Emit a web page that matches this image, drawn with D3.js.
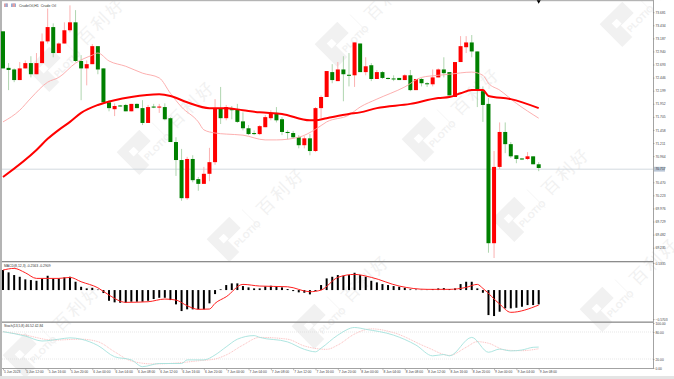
<!DOCTYPE html>
<html>
<head>
<meta charset="utf-8">
<script src="https://cdn.jsdelivr.net/npm/d3@7"></script>
<style>
    html, body {margin: 0; padding: 0; background: #fff; overflow: hidden;}
    svg {display: block;}
    text {font-family: "Liberation Sans", sans-serif;}
</style>
</head>
<body>
<svg id="chart" width="674" height="379"></svg>
<script>
//hourly candles, 5 Jun 08:00 to 9 Jun 08:00, red is up and green is down
const opens = [73.32,72.63,72.60,72.40,72.62,72.72,72.51,72.72,73.13,73.40,72.91,73.09,73.34,73.49,72.76,72.62,72.70,73.04,72.62,71.98,71.85,71.92,71.93,71.81,71.95,71.87,71.59,71.90,71.88,71.89,71.68,71.23,70.89,70.17,70.91,70.53,70.44,70.63,70.85,71.87,71.68,71.85,71.85,71.62,71.49,71.40,71.38,71.51,71.68,71.78,71.66,71.42,71.40,71.32,71.17,71.30,71.06,71.87,72.08,72.55,72.38,72.60,72.50,72.49,73.09,72.55,72.68,72.42,72.55,72.44,72.43,72.44,72.40,72.49,72.21,72.42,72.34,72.32,72.45,72.60,72.55,72.08,72.74,73.02,73.11,72.94,72.19,71.95,69.32,70.76,71.42,71.19,70.98,70.92,70.91,70.96,70.81];
const highs = [73.32,72.72,72.62,72.74,72.77,72.85,72.91,73.28,73.75,73.47,73.11,73.49,73.81,73.72,72.87,72.77,73.08,73.04,72.62,72.02,71.96,71.93,71.95,71.95,71.96,72.02,71.93,71.95,71.95,71.96,71.70,71.32,71.10,70.95,70.98,70.57,70.76,71.12,72.04,72.27,71.93,71.91,71.95,71.79,71.55,71.45,71.55,71.74,71.83,71.89,71.70,71.45,71.44,71.36,71.34,71.38,71.89,72.11,72.57,72.70,72.74,72.85,72.91,73.11,73.09,72.83,72.72,72.59,72.57,72.45,72.49,72.44,72.51,72.59,72.42,72.44,72.36,72.60,72.62,72.83,72.55,72.74,73.23,73.23,73.25,72.94,72.28,72.06,71.06,71.60,71.60,71.23,70.98,70.93,71.04,70.96,70.85];
const lows = [72.62,72.21,72.36,72.40,72.62,72.45,72.51,72.72,73.09,72.83,72.91,73.09,73.30,72.74,72.02,72.30,72.70,72.51,71.98,71.81,71.72,71.90,71.81,71.81,71.87,71.55,71.59,71.87,71.78,71.64,71.23,70.59,70.12,70.14,70.47,70.31,70.44,70.49,70.80,71.57,71.64,71.66,71.59,71.45,71.36,71.36,71.36,71.51,71.64,71.60,71.36,71.28,71.30,71.11,71.11,70.98,71.04,71.68,72.08,72.34,72.38,72.00,72.28,72.27,72.55,72.49,72.38,72.42,72.42,72.41,72.38,72.40,72.40,72.19,72.21,72.28,72.27,72.28,72.45,72.45,72.11,72.08,72.74,72.91,72.83,71.89,71.61,69.14,69.04,70.72,71.02,70.93,70.83,70.89,70.89,70.81,70.68];
const closes = [72.62,72.59,72.40,72.62,72.72,72.51,72.72,73.13,73.40,72.91,73.09,73.34,73.49,72.76,72.62,72.70,73.04,72.60,71.98,71.87,71.91,71.91,71.81,71.95,71.87,71.59,71.89,71.88,71.90,71.66,71.23,70.89,70.17,70.91,70.51,70.44,70.63,70.85,71.87,71.68,71.89,71.83,71.61,71.49,71.38,71.38,71.53,71.70,71.78,71.64,71.42,71.40,71.32,71.17,71.30,71.06,71.87,72.08,72.57,72.40,72.60,72.51,72.48,73.11,72.55,72.66,72.42,72.55,72.44,72.42,72.42,72.40,72.49,72.21,72.42,72.34,72.32,72.45,72.60,72.53,72.11,72.74,73.04,73.11,72.94,72.21,71.93,69.32,70.76,71.42,71.19,70.96,70.91,70.90,70.96,70.81,70.74];

//moving averages, read at the bends only (bar index, price)
const slowMaBars = [0,6,8,10,12,14,17,20,23,28,30,33,37,40,43,46,50,55,56,58,62,64,67,73,78,80,82,84,86,87,91,96];
const slowMaValues = [70.57,71.08,71.29,71.46,71.61,71.78,71.93,72.02,72.08,72.13,72.10,71.98,71.87,71.87,71.83,71.79,71.76,71.64,71.64,71.68,71.76,71.79,71.87,71.95,72.06,72.08,72.15,72.21,72.21,72.10,72.04,71.87];
const fastMaBars = [0,3,5,8,10,13,16,17,19,22,25,28,30,32,35,36,38,40,43,47,49,53,56,58,62,64,67,72,75,78,80,84,86,87,89,92,96];
const fastMaValues = [71.61,71.83,72.06,72.36,72.45,72.72,72.87,72.91,72.76,72.66,72.53,72.44,72.15,71.89,71.61,71.46,71.40,71.38,71.36,71.27,71.27,71.32,71.47,71.61,71.74,71.89,72.04,72.27,72.45,72.49,72.51,72.55,72.49,72.34,72.21,71.96,71.68];

const macdBars = [.394,.349,.296,.262,.211,.197,.183,.230,.282,.230,.230,.250,.262,.164,.065,.033,.045,.010,-.059,-.211,-.242,-.250,-.250,-.230,-.230,-.230,-.211,-.177,-.152,-.152,-.197,-.282,-.414,-.380,-.380,-.380,-.380,-.262,-.079,.014,.099,.132,.132,.079,.053,.033,.033,.073,.085,.079,.053,.020,-.020,-.045,-.053,-.085,-.020,.099,.230,.262,.296,.282,.296,.341,.296,.262,.183,.152,.118,.099,.079,.065,.045,.014,.010,.006,.006,.020,.033,.039,.020,.033,.118,.164,.164,.033,-.053,-.493,-.512,-.427,-.361,-.361,-.349,-.329,-.296,-.296,-.282];
const macdSignalBars = [0,2,4,6,10,12,14,17,19,22,26,29,31,33,35,37,38,40,43,46,51,55,57,60,63,66,71,76,80,83,85,86,89,91,96];
const macdSignalValues = [.394,.427,.341,.230,.230,.250,.164,.045,-.099,-.242,-.230,-.177,-.197,-.309,-.380,-.374,-.262,-.132,.112,.079,.065,-.033,0,.250,.309,.250,.079,.014,.014,.053,.112,.033,-.276,-.439,-.296];

const stochMainBars = [0,4,7,10,12,14,17,20,23,25,28,32,33,36,38,40,42,45,46,51,54,56,57,60,63,65,70,74,77,79,80,84,87,89,91,93,95,96];
const stochMainValues = [80.7,71,60,64,67,64,50,25,18,3,10,10,18,18,29,47,64,72,68,58,41.5,36,44,73,90,86,73,51,27,30,27,68,35,42,38,40,46,46.5];
const stochSignalBars = [0,4,9,14,17,20,23,27,32,35,38,40,43,46,51,54,58,60,63,66,70,76,80,83,85,87,90,93,96];
const stochSignalValues = [80.7,73,62,64,58.5,36,15.5,9,12,16,20,29,51,68,64,49,41.5,51,75.5,87,78.5,46,28,46,58.5,55,40,38.5,42.8];

const priceTicks = [73.681,73.434,73.187,72.940,72.693,72.446,72.199,71.952,71.705,71.458,71.211,70.964,70.470,70.223,69.976,69.729,69.482,69.235];
const lastPrice = 70.717;
const macdTicks = [0.5335,-0.5703];
const stochTicks = [100,80,20,0];
const stochLevels = [80,20];
const timeBars = d3.range(0, 97, 4);
const timeLabels = ['5 Jun 2023','5 Jun 12:00','5 Jun 16:00','5 Jun 20:00','6 Jun 00:00','6 Jun 04:00','6 Jun 08:00','6 Jun 12:00','6 Jun 16:00','6 Jun 20:00','7 Jun 00:00','7 Jun 04:00','7 Jun 08:00','7 Jun 12:00','7 Jun 16:00','7 Jun 20:00','8 Jun 00:00','8 Jun 04:00','8 Jun 08:00','8 Jun 12:00','8 Jun 16:00','8 Jun 20:00','9 Jun 00:00','9 Jun 04:00','9 Jun 08:00'];

//watermark centres
const logoSpots = [[50,70],[140,153],[230,240],[315,327],[26,356],[338,45],[425,140],[515,220],[603,310],[623,25]];

const svg = d3.select('#chart');
const width = 674, height = 379, axisX = 653;

const x = d3.scaleLinear().domain([0, 96]).range([3, 538.7]);
const yPrice = d3.scaleLinear().domain([69.235, 73.681]).range([247.7, 12.2]);
const yMacd = d3.scaleLinear().domain([-0.5703, 0.5335]).range([319, 263]);
const yStoch = d3.scaleLinear().domain([0, 100]).range([368, 323]);

const red = '#ff0000', green = '#008000';
const markGrey = '#f1f1f1';

//watermark goes first so everything else sits over it
const marks = svg.append('g').attr('class', 'watermark');
logoSpots.forEach(function(d) {
    const g = marks.append('g').attr('transform', 'translate(' + d[0] + ',' + d[1] + ') rotate(-45)');
    g.append('path')
        .attr('d', 'M-16,-17H16V-1H-2V15H-16Z')
        .attr('fill', markGrey);
    g.append('rect').attr('x', -7).attr('y', -9).attr('width', 7).attr('height', 7)
        .attr('fill', '#fff');
    g.append('text').text('PLOTIO')
        .attr('x', 0).attr('y', 11)
        .attr('font-size', 9).attr('font-weight', 'bold')
        .attr('fill', markGrey);
    g.append('line')
        .attr('x1', 30).attr('x2', 30).attr('y1', -13).attr('y2', 13)
        .attr('stroke', markGrey).attr('stroke-width', 0.7);
    g.append('text').text('百利好')
        .attr('x', 41).attr('y', 7)
        .attr('font-family', '"Noto Sans CJK SC"')
        .attr('font-size', 17).attr('letter-spacing', 3)
        .attr('fill', markGrey);
});

//window frame and pane separators
svg.append('rect').attr('x', 0).attr('y', 0).attr('width', 2).attr('height', 376).attr('fill', '#b4b4b4');
svg.append('rect').attr('x', 0).attr('y', 0).attr('width', axisX).attr('height', 1.2).attr('fill', '#b4b4b4');
svg.append('rect').attr('x', 0).attr('y', 376).attr('width', width).attr('height', 3).attr('fill', '#e4e4e4');
svg.selectAll('.sep')
    .data([261, 321.5])
    .join('rect')
    .attr('class', 'sep')
    .attr('x', 2).attr('y', function(d) {return d;})
    .attr('width', axisX - 2).attr('height', 1.3)
    .attr('fill', '#8c8c8c');
svg.append('rect').attr('x', 2).attr('y', 368).attr('width', axisX - 2).attr('height', 0.8).attr('fill', '#8c8c8c');
svg.append('rect').attr('x', axisX).attr('y', 0).attr('width', 0.8).attr('height', 368.8).attr('fill', '#8c8c8c');

//last price line
svg.append('line')
    .attr('x1', 2).attr('x2', axisX)
    .attr('y1', yPrice(lastPrice)).attr('y2', yPrice(lastPrice))
    .attr('stroke', '#c8d0d8').attr('stroke-width', 0.8);

//candles
const bars = opens.map(function(o, i) {
    return {i: i, open: o, high: highs[i], low: lows[i], close: closes[i]};
});
const candles = svg.append('g').attr('class', 'candles')
    .selectAll('g').data(bars).join('g');
candles.append('line')
    .attr('x1', function(d) {return x(d.i);})
    .attr('x2', function(d) {return x(d.i);})
    .attr('y1', function(d) {return yPrice(d.high);})
    .attr('y2', function(d) {return yPrice(d.low);})
    .attr('stroke', function(d) {return d.close >= d.open ? '#fba9a9' : '#a6d0a6';})
    .attr('stroke-width', 0.9);
candles.append('rect')
    .attr('x', function(d) {return x(d.i) - 2;})
    .attr('width', 4)
    .attr('y', function(d) {return yPrice(Math.max(d.open, d.close));})
    .attr('height', function(d) {return Math.max(1, Math.abs(yPrice(d.open) - yPrice(d.close)));})
    .attr('fill', function(d) {return d.close >= d.open ? red : green;});

function pairLine(bars, values, y) {
    return d3.line()
        .x(function(d) {return x(d);})
        .y(function(d, i) {return y(values[i]);})
        .curve(d3.curveMonotoneX)(bars);
}

svg.append('path')
    .attr('d', pairLine(fastMaBars, fastMaValues, yPrice))
    .attr('fill', 'none').attr('stroke', '#fca6a6').attr('stroke-width', 0.9);
svg.append('path')
    .attr('d', pairLine(slowMaBars, slowMaValues, yPrice))
    .attr('fill', 'none').attr('stroke', red).attr('stroke-width', 2);

//shift marker
svg.append('path')
    .attr('d', d3.symbol().type(d3.symbolTriangle).size(7))
    .attr('transform', 'translate(' + x(96) + ',1.5) rotate(180)')
    .attr('fill', '#000');

//header
svg.append('rect').attr('x', 4).attr('y', 3.5).attr('width', 4).attr('height', 3.5).attr('fill', '#e8a0a0');
svg.append('rect').attr('x', 5.5).attr('y', 3.5).attr('width', 2).attr('height', 3.5).attr('fill', '#8fb0dc');
svg.append('rect').attr('x', 11).attr('y', 3.5).attr('width', 5).attr('height', 3.5).attr('fill', '#8fb0dc');
svg.append('rect').attr('x', 12.5).attr('y', 3.5).attr('width', 2.5).attr('height', 3.5).attr('fill', '#e8a0a0');
svg.append('text').text('CrudeOil,H1  Crude Oil')
    .attr('x', 19).attr('y', 6.8)
    .attr('xml:space', 'preserve')
    .attr('font-size', 3.6).attr('fill', '#333');

//macd pane
svg.append('g').selectAll('line').data(macdBars).join('line')
    .attr('x1', function(d, i) {return x(i);})
    .attr('x2', function(d, i) {return x(i);})
    .attr('y1', yMacd(0))
    .attr('y2', function(d) {return yMacd(d);})
    .attr('stroke', '#000').attr('stroke-width', 2);
svg.append('path')
    .attr('d', pairLine(macdSignalBars, macdSignalValues, yMacd))
    .attr('fill', 'none').attr('stroke', '#ff2020').attr('stroke-width', 1);
svg.append('text').text('MACD(8,12,3) -0.2563 -0.2909')
    .attr('x', 4).attr('y', 266.5).attr('font-size', 3.4).attr('fill', '#333');

//stochastic pane
svg.append('g').selectAll('line').data(stochLevels).join('line')
    .attr('x1', 2).attr('x2', axisX)
    .attr('y1', function(d) {return yStoch(d);})
    .attr('y2', function(d) {return yStoch(d);})
    .attr('stroke', '#d6d6d6').attr('stroke-width', 0.6).attr('stroke-dasharray', '1,1');
svg.append('path')
    .attr('d', pairLine(stochSignalBars, stochSignalValues, yStoch))
    .attr('fill', 'none').attr('stroke', '#fbb0b0').attr('stroke-width', 0.8).attr('stroke-dasharray', '1,0.8');
svg.append('path')
    .attr('d', pairLine(stochMainBars, stochMainValues, yStoch))
    .attr('fill', 'none').attr('stroke', '#a5e2dc').attr('stroke-width', 0.9);
svg.append('text').text('Stoch(13,5,8) 46.52 42.84')
    .attr('x', 4).attr('y', 326.8).attr('font-size', 3.4).attr('fill', '#333');

//axes
function styleAxis(g) {
    g.select('.domain').remove();
    g.selectAll('line').attr('stroke', '#777').attr('stroke-width', 0.5);
    g.selectAll('text').attr('font-size', 3.3).attr('fill', '#444');
}
svg.append('g')
    .attr('transform', 'translate(' + axisX + ',0)')
    .call(d3.axisRight(yPrice).tickValues(priceTicks).tickFormat(d3.format('.3f')).tickSize(1.5).tickPadding(1))
    .call(styleAxis);
svg.append('g')
    .attr('transform', 'translate(' + axisX + ',0)')
    .call(d3.axisRight(yMacd).tickValues(macdTicks).tickFormat(d3.format('.4f')).tickSize(1.5).tickPadding(1))
    .call(styleAxis);
svg.append('g')
    .attr('transform', 'translate(' + axisX + ',0)')
    .call(d3.axisRight(yStoch).tickValues(stochTicks).tickFormat(d3.format('.2f')).tickSize(1.5).tickPadding(1))
    .call(styleAxis);

const timeAxis = svg.append('g')
    .attr('transform', 'translate(0,368.8)')
    .call(d3.axisBottom(x).tickValues(timeBars)
        .tickFormat(function(d, i) {return timeLabels[i];})
        .tickSize(1.5).tickPadding(0.8))
    .call(styleAxis);
timeAxis.selectAll('text').attr('text-anchor', 'start').attr('dx', 0.5);

//last price box
svg.append('rect')
    .attr('x', axisX + 1).attr('y', yPrice(lastPrice) - 2.4)
    .attr('width', 11).attr('height', 4.8)
    .attr('fill', '#b9c6d6');
svg.append('text').text(d3.format('.3f')(lastPrice))
    .attr('x', axisX + 2.5).attr('y', yPrice(lastPrice) + 1.2)
    .attr('font-size', 3.3).attr('fill', '#333');
</script>
</body>
</html>
